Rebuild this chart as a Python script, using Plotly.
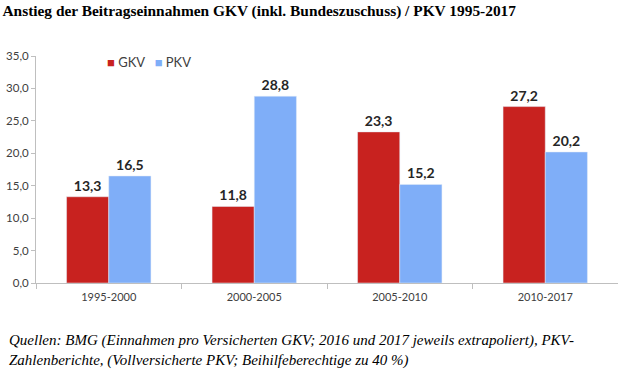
import plotly.graph_objects as go

categories = ["1995-2000", "2000-2005", "2005-2010", "2010-2017"]
gkv = [13.3, 11.8, 23.3, 27.2]
pkv = [16.5, 28.8, 15.2, 20.2]
y_ticks = [0, 5, 10, 15, 20, 25, 30, 35]
series_names = ["GKV", "PKV"]
series_colors = ["#C8221F", "#7FAEF8"]

title = "Anstieg der Beitragseinnahmen GKV (inkl. Bundeszuschuss) / PKV 1995-2017"
caption = ("Quellen: BMG (Einnahmen pro Versicherten GKV; 2016 und 2017 jeweils extrapoliert), PKV-<br>"
           "Zahlenberichte, (Vollversicherte PKV; Beihilfeberechtige zu 40 %)")

sans = "Lato, Liberation Sans, sans-serif"
label_font = dict(family=sans, size=14, color="#262626", weight="bold")

fig = go.Figure()
for name, vals, col in zip(series_names, [gkv, pkv], series_colors):
    fig.add_trace(go.Bar(x=categories, y=vals, name=name, marker_color=col,
                         texttemplate="<b>%{y:.1f}</b>", textposition="outside",
                         textfont=label_font, cliponaxis=False, showlegend=False))

# Legend drawn as text (compact, as in reference)
legend_text = "   ".join(
    f"<span style='color:{c}'>■</span> <span style='color:#404040'>{n}</span>"
    for n, c in zip(series_names, series_colors))

fig.update_layout(
    width=618, height=370,
    margin=dict(l=36, r=0, t=56, b=87),
    paper_bgcolor="white", plot_bgcolor="white",
    separators=",.",
    barmode="group", bargap=0.42, bargroupgap=0,
    title=dict(text="<b>" + title + "</b>", x=0.004, xanchor="left", xref="container",
               y=0.985, yanchor="top", yref="container",
               font=dict(family="Liberation Serif, serif", size=15.4, color="black")),
    xaxis=dict(showline=True, linecolor="#BFBFBF", linewidth=1, ticks="outside",
               tickson="boundaries", ticklen=5, tickcolor="#BFBFBF", ticklabelstandoff=4,
               tickfont=dict(family=sans, size=11, color="#404040"),
               showgrid=False),
    yaxis=dict(range=[0, 35], tickvals=y_ticks, tickformat=".1f", showline=True,
               linecolor="#BFBFBF", linewidth=1, ticks="outside", ticklen=4, tickcolor="#BFBFBF",
               tickfont=dict(family=sans, size=11.5, color="#404040"),
               showgrid=False, zeroline=False),
    annotations=[
        dict(text="<i>" + caption + "</i>", xref="paper", yref="paper",
             x=-0.05, y=-0.205, xanchor="left", yanchor="top", align="left",
             showarrow=False,
             font=dict(family="Liberation Serif, serif", size=15, color="black")),
        dict(text=legend_text, xref="paper", yref="paper",
             x=(105 - 36) / 582, y=(283 - 62) / 227, xanchor="left", yanchor="middle",
             showarrow=False, font=dict(family=sans, size=13)),
    ],
)

fig.write_html("out.html", config={"displayModeBar": False},
               post_script="document.body.style.margin='0';")
